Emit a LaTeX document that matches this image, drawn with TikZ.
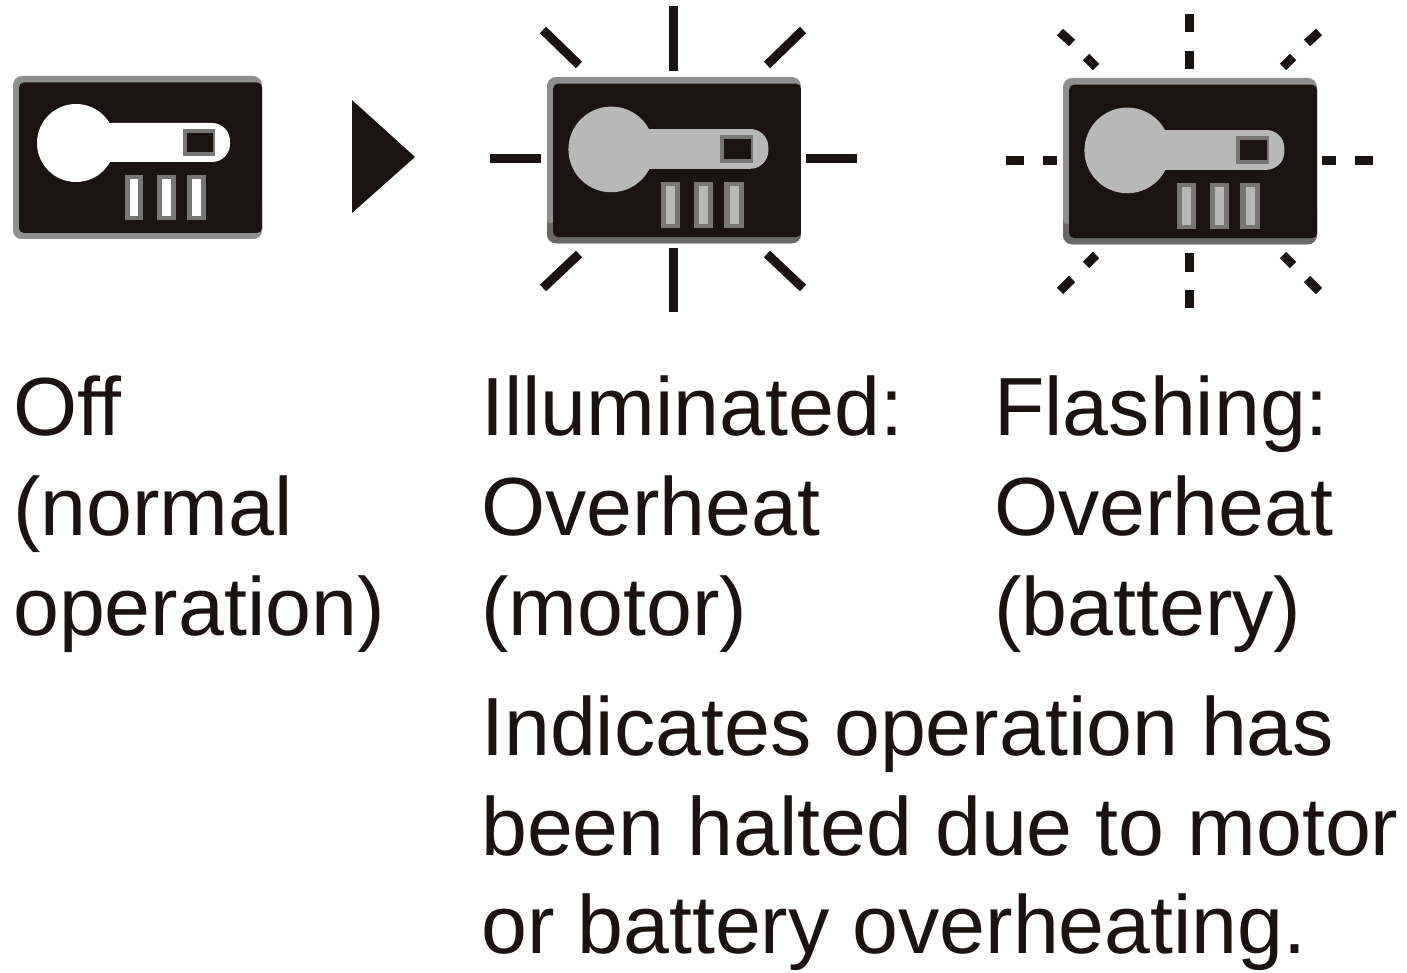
\documentclass[tikz,border=0pt]{standalone}
\usepackage{fontspec}
\usetikzlibrary{calc}
\setmainfont[Ligatures=CommonOff]{Liberation Sans}
\definecolor{ink}{HTML}{1A1311}
\definecolor{lit}{HTML}{B8B8B8}
\definecolor{edge}{HTML}{8F8F8F}
\definecolor{edgelow}{HTML}{6A6866}
\definecolor{barmid}{HTML}{777675}
\tikzset{
  txt/.style={anchor=base west,inner sep=0pt,text=ink,font=\fontsize{82.5}{100}\selectfont},
  dray/.style={draw=ink,line width=9pt},
}
% #1 left x, #2 top y, #3 glass colour, #4 scale, #5 content shift down, #6 disc radius, #7 bottom edge colour
\newcommand{\lampicon}[7]{%
\begin{scope}[shift={(#1,#2)},scale=#4]
  \fill[edge,rounded corners=9pt] (0,0) rectangle (249,163);
  \fill[#7,rounded corners=9pt] (0,120) rectangle (249,163);
  \fill[edge,rounded corners=3pt] (0,20) rectangle (8,143);
  \fill[ink,rounded corners=5pt] (6,6.5) rectangle (249,157);
  \begin{scope}[yshift=-#5pt]
  \fill[#3] (63,66) circle (#6);
  \fill[#3,rounded corners=18pt] (80,46) rectangle (217,85);
  \fill[barmid] (170,52) rectangle (202,79);
  \fill[ink] (174,56) rectangle (200,75);
  \foreach \l/\r in {112/130, 144/163, 174/193}{
    \fill[barmid] (\l,98) rectangle (\r,143);
    \fill[#3] ($(\l,102)+(5,0)$) rectangle ($(\r,139)+(-5,0)$);
  }
  \end{scope}
\end{scope}}
\begin{document}
\begin{tikzpicture}[x=1pt,y=-1pt]
\useasboundingbox (0,0) rectangle (1407,973);
\lampicon{13}{76}{white}{1}{1}{39}{edge}
\fill[ink] (352,100) -- (415,157) -- (352,213) -- cycle;
\lampicon{547}{77}{lit}{1.02}{5}{42}{edgelow}
\foreach \a/\b/\c/\d in {673/6/673/71, 673/248/673/312, 490/159/541/159, 806/159/857/159,
  543/30/579/65, 803/30/767/65, 543/288/579/254, 803/288/767/254}
  \draw[dray] (\a,\b) -- (\c,\d);
\lampicon{1063}{78}{lit}{1.02}{5}{42}{edgelow}
\foreach \a/\b/\c/\d in {1189/14/1189/32, 1189/51/1189/69, 1189/253/1189/272, 1189/290/1189/308,
  1006/161/1024/161, 1043/161/1057/161, 1322/161/1336/161, 1355/161/1373/161,
  1060/32/1072/43, 1086/57/1096/67, 1319/32/1307/43, 1293/57/1283/67,
  1060/291/1072/279, 1086/265/1096/255, 1319/291/1307/279, 1293/265/1283/255}
  \draw[dray] (\a,\b) -- (\c,\d);
\node[txt] (t1) at (13,435) {Off};
\node[txt] (t2) at (13,535) {(normal};
\node[txt] (t3) at (13,635) {operation)};
\node[txt] (t4) at (481,435) {Illuminated:};
\node[txt] (t5) at (481,535) {Overheat};
\node[txt] (t6) at (481,635) {(motor)};
\node[txt] (t7) at (994,435) {Flashing:};
\node[txt] (t8) at (994,535) {Overheat};
\node[txt] (t9) at (994,635) {(battery)};
\node[txt] (t10) at (481,755) {Indicates operation has};
\node[txt] (t11) at (481,855) {been halted due to motor};
\node[txt] (t12) at (481,953) {or battery overheating.};
\end{tikzpicture}
\end{document}
